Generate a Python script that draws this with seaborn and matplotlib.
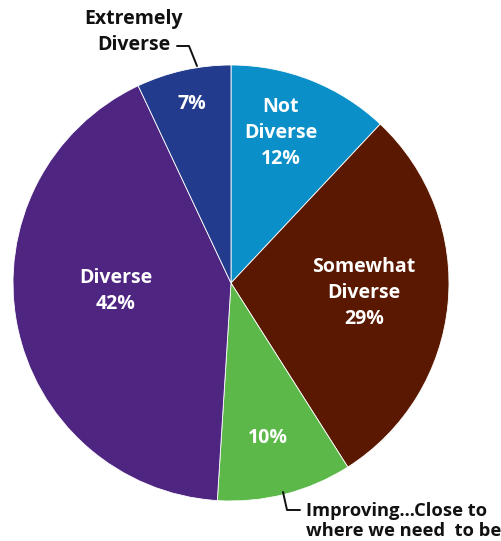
import matplotlib
matplotlib.use("Agg")
import matplotlib.pyplot as plt
import seaborn as sns

categories = ["Not Diverse", "Somewhat Diverse", "Improving...Close to where we need  to be",
              "Diverse", "Extremely Diverse"]
values = [12, 29, 10, 42, 7]
colors = ["#0a8fc9", "#5a1800", "#5cb849", "#4f2582", "#233b8c"]

sns.set_theme(style="white")
plt.rcParams['font.family'] = ['Open Sans', 'DejaVu Sans']

W, H = 502, 541
fig = plt.figure(figsize=(W / 100, H / 100), dpi=100)
ax = fig.add_axes([0, 0, 1, 1])

cx, cy, r = 231, H - 283, 218
ax.pie(values, colors=colors, startangle=90, counterclock=False,
       center=(cx, cy), radius=r, frame=True,
       wedgeprops=dict(linewidth=0.6, edgecolor="white"))
ax.set_xlim(0, W)
ax.set_ylim(0, H)
ax.set_aspect("equal")
ax.axis("off")

fs = 14
inside = [
    ("Not\nDiverse\n12%", 281, 133),
    ("Somewhat\nDiverse\n29%", 364, 293),
    ("10%", 268, 438),
    ("Diverse\n42%", 116, 291),
    ("7%", 192, 104),
]
for txt, x, y in inside:
    ax.text(x, H - y, txt, color="white", fontsize=fs, fontweight="bold",
            ha="center", va="center", linespacing=1.38)

ax.text(134, H - 32, "Extremely\nDiverse", color="#111111", fontsize=fs,
        fontweight="bold", ha="center", va="center", linespacing=1.4)
ax.plot([177, 189, 197], [H - 46, H - 46, H - 66], color="#111111", lw=1.4)

ax.text(306, H - 521, "Improving...Close to\nwhere we need  to be", color="#111111",
        fontsize=13.2, fontweight="bold", ha="left", va="center", linespacing=1.2)
ax.plot([283, 287, 300], [H - 492, H - 510, H - 510], color="#111111", lw=1.4)

fig.savefig("out.png", dpi=100)
